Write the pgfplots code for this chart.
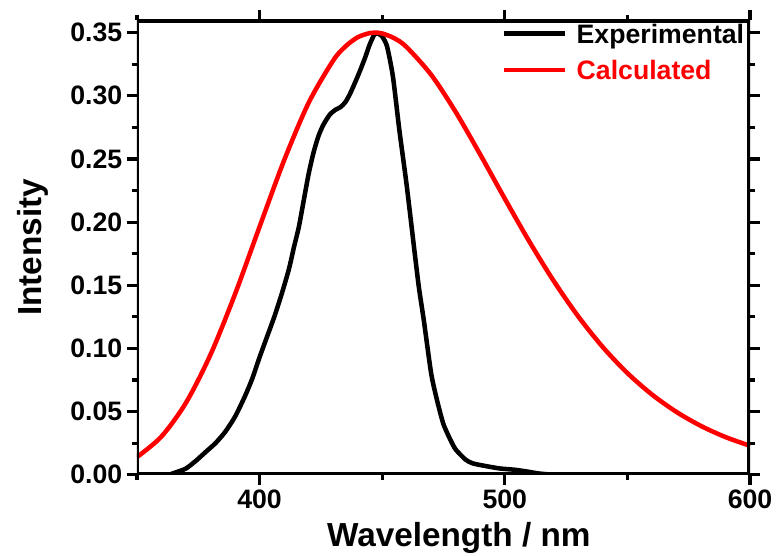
\documentclass[border=0pt]{standalone}
\usepackage{fontspec}
\setmainfont{Liberation Sans}
\usepackage{pgfplots}
\pgfplotsset{compat=1.18}
\usepackage{pgfplotstable}

\pgfplotstableread{
x y
363 0.000
366 0.002
370 0.005
374 0.011
378 0.018
382 0.025
386 0.034
390 0.046
394 0.062
397 0.076
400 0.093
403 0.109
406 0.125
409 0.143
412 0.163
414 0.180
416 0.196
418 0.217
420 0.238
422 0.255
424 0.268
426 0.277
428.6 0.285
431 0.289
433 0.291
435 0.295
437 0.302
439.5 0.313
441 0.320
443 0.330
445 0.341
447 0.349
448.5 0.349
450 0.347
452 0.339
454.4 0.315
457 0.273
460 0.229
463.3 0.175
465 0.148
467 0.122
470 0.080
472.5 0.058
475 0.040
478 0.027
480 0.020
484 0.012
487 0.009
492 0.007
498 0.005
504 0.004
509 0.0026
514 0.001
520 0.000
}\expdata

\pgfplotstableread{
x y
350 0.01401
360 0.03029
370 0.05703
380 0.09515
390 0.14302
400 0.19627
410 0.24882
420 0.29437
430 0.32782
435 0.33901
440 0.34631
445 0.34970
447 0.35000
450 0.34935
455 0.34550
460 0.33848
470 0.31659
480 0.28712
490 0.25347
500 0.21858
510 0.18467
520 0.15328
530 0.12526
540 0.10101
550 0.08051
560 0.06356
570 0.04975
580 0.03866
590 0.02986
600 0.02295
}\calcdata

\begin{document}
\begin{tikzpicture}
\begin{axis}[
  scale only axis,
  width=460pt, height=341.25pt,
  xmin=350, xmax=600, ymin=0, ymax=0.36,
  axis line style={draw=none},
  xtick={400,500,600},
  minor xtick={350,450,550},
  ytick={0,0.05,0.10,0.15,0.20,0.25,0.30,0.35},
  minor ytick={0.025,0.075,0.125,0.175,0.225,0.275,0.325},
  tick align=outside,
  xtick pos=both, ytick pos=both,
  major tick length=7.5pt, minor tick length=4pt,
  tick style={black, line width=2.4pt},
  /pgf/number format/assume math mode=true,
  yticklabel style={/pgf/number format/fixed, /pgf/number format/fixed zerofill, /pgf/number format/precision=2},
  ticklabel style={font=\bfseries\fontsize{20}{24}\selectfont},
  xlabel={Wavelength / nm},
  ylabel={Intensity},
  label style={font=\bfseries\fontsize{25}{30}\selectfont},
  xlabel style={at={(axis description cs:0.525,-0.158)}, anchor=base},
  ylabel style={at={(axis description cs:-0.155,0.5)}, anchor=base},
  legend style={draw=none, fill=none, at={(axis description cs:0.993,0.995)}, anchor=north east,
    inner sep=0pt, font=\bfseries\fontsize{20}{24}\selectfont,
    nodes={inner sep=1pt, text depth=0pt}, row sep=11pt, /tikz/every odd column/.append style={column sep=6pt}},
  legend image code/.code={\draw[#1] (0pt,0pt) -- (46pt,0pt);},
  legend cell align=left,
]
\addplot[black, line width=3.4pt, smooth, tension=0.4] table[x=x,y=y] {\expdata};
\addlegendentry{Experimental}
\addplot[red, line width=3.4pt, smooth] table[x=x,y=y] {\calcdata};
\addlegendentry{\textcolor{red}{Calculated}}
\draw[black, line width=3.8pt] (rel axis cs:0,0) rectangle (rel axis cs:1,1);
\end{axis}
\pgfresetboundingbox
\path[use as bounding box] ([shift={(-102.75pt,-60.75pt)}]current axis.south west) rectangle ([shift={(20.25pt,15pt)}]current axis.north east);
\end{tikzpicture}
\end{document}
